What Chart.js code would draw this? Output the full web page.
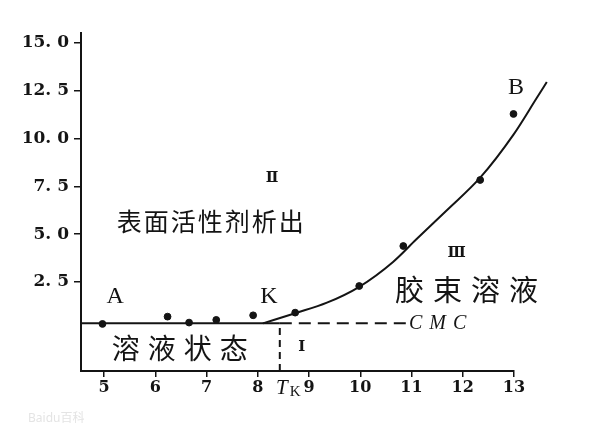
<!DOCTYPE html>
<html>
<head>
<meta charset="utf-8">
<script src="https://cdn.jsdelivr.net/npm/chart.js@4.4.1/dist/chart.umd.min.js"></script>
<style>
  html, body { margin: 0; padding: 0; background: #fff; }
  #chart { display: block; }
</style>
</head>
<body>
<canvas id="chart" width="600" height="435"></canvas>
<script>
// axis ticks
var xTicks = [5, 6, 7, 8, 9, 10, 11, 12, 13];
var yTicks = [2.5, 5, 7.5, 10, 12.5, 15];
var yTickLabels = ['2. 5', '5. 0', '7. 5', '10. 0', '12. 5', '15. 0'];

// measured points
var pointX = [4.97, 6.24, 6.66, 7.19, 7.91, 8.73, 9.98, 10.84, 12.34, 12.99, 13.45];
var pointY = [0.31, 0.69, 0.38, 0.52, 0.76, 0.90, 2.29, 4.38, 7.83, 11.28, 12.36];

// curve K -> B
var curveX = [8.10, 8.73, 9.35, 9.98, 10.64, 11.09, 11.69, 12.34, 12.99, 13.44, 13.64];
var curveY = [0.34, 0.87, 1.42, 2.25, 3.55, 4.72, 6.25, 7.95, 10.2, 12.1, 12.95];

var cmc = 0.34;       // CMC level
var tk = 8.43;        // Krafft point T_K
var cmcEnd = 10.91;   // dashed line stops at the "CMC" text

var xMin = 4.551, xMax = 13;
var yMin = -2.15, yMax = 15.51;

// text placed in data units
var notes = [
    {text: 'A', x: 5.22, y: 1.71, kind: 'letter'},
    {text: 'K', x: 8.22, y: 1.72, kind: 'letter'},
    {text: 'B', x: 13.04, y: 12.64, kind: 'letter'},
    {text: 'Ⅱ', x: 8.28, y: 7.93, kind: 'roman'},
    {text: 'Ⅲ', x: 11.88, y: 4.0, kind: 'roman'},
    {text: 'Ⅰ', x: 8.86, y: -0.88, kind: 'roman'},
    {text: '表面活性剂析出', x: 5.25, y: 5.64, kind: 'cjkSmall'},
    {text: '溶液状态', x: 5.15, y: -0.95, kind: 'cjk'},
    {text: '胶束溶液', x: 10.68, y: 2.08, kind: 'cjkBig'},
    {text: 'CMC', x: 10.95, y: cmc, kind: 'cmc'}
];

var ink = '#141414';

var styles = {
    letter: {font: '24px "Liberation Serif"', align: 'center', spacing: '0px'},
    roman: {font: 'bold 15px "DejaVu Serif", "Noto Sans CJK SC"', align: 'center', spacing: '0px'},
    cjkSmall: {font: '25px "Noto Sans CJK SC"', align: 'left', spacing: '2px'},
    cjk: {font: '28px "Noto Sans CJK SC"', align: 'left', spacing: '8px'},
    cjkBig: {font: '29px "Noto Sans CJK SC"', align: 'left', spacing: '9px'},
    cmc: {font: 'italic 20px "Liberation Serif"', align: 'left', spacing: '7px'}
};

var textPlugin = {
    id: 'notes',
    afterDraw: function(chart) {
        var ctx = chart.ctx;
        var xs = chart.scales.x, ys = chart.scales.y;
        ctx.save();
        ctx.fillStyle = ink;
        ctx.textBaseline = 'middle';
        notes.forEach(function(n) {
            var st = styles[n.kind];
            ctx.font = st.font;
            ctx.textAlign = st.align;
            ctx.letterSpacing = st.spacing;
            ctx.fillText(n.text, xs.getPixelForValue(n.x), ys.getPixelForValue(n.y));
        });
        ctx.letterSpacing = '0px';

        // T_K under the axis
        var px = xs.getPixelForValue(tk);
        var py = chart.chartArea.bottom + 17;
        ctx.font = 'italic 21px "Liberation Serif"';
        ctx.textAlign = 'center';
        ctx.fillText('T', px + 2, py);
        ctx.font = '15px "Liberation Serif"';
        ctx.textAlign = 'left';
        ctx.fillText('K', px + 10, py + 4);

        // faint watermark
        ctx.fillStyle = '#e4e4e4';
        ctx.font = '12px "Noto Sans", "Noto Sans CJK SC"';
        ctx.fillText('Baidu百科', 28, 419);
        ctx.restore();
    }
};

var dots = pointX.map(function(x, i) { return {x: x, y: pointY[i]}; });
var curve = curveX.map(function(x, i) { return {x: x, y: curveY[i]}; });

new Chart(document.getElementById('chart'), {
    type: 'scatter',
    data: {
        datasets: [{
            data: dots,
            backgroundColor: ink,
            borderColor: ink,
            pointRadius: function(c) { return c.dataIndex === pointX.length - 1 ? 2.3 : 3.4; },
            clip: false
        }, {
            data: curve,
            showLine: true,
            borderColor: ink,
            borderWidth: 2,
            pointRadius: 0,
            cubicInterpolationMode: 'monotone',
            clip: false
        }, {
            data: [{x: xMin, y: cmc}, {x: tk, y: cmc}],
            showLine: true,
            borderColor: ink,
            borderWidth: 2,
            pointRadius: 0
        }, {
            data: [{x: tk, y: cmc}, {x: cmcEnd, y: cmc}],
            showLine: true,
            borderColor: ink,
            borderWidth: 2,
            borderDash: [12, 7],
            pointRadius: 0
        }, {
            data: [{x: tk, y: yMin}, {x: tk, y: cmc}],
            showLine: true,
            borderColor: ink,
            borderWidth: 2,
            borderDash: [7, 5],
            pointRadius: 0
        }]
    },
    options: {
        responsive: false,
        animation: false,
        devicePixelRatio: 1,
        layout: {padding: {left: 0, right: 86, top: 33, bottom: 0}},
        plugins: {legend: {display: false}, tooltip: {enabled: false}},
        scales: {
            x: {
                type: 'linear',
                bounds: 'data',
                // bounds set here (not as min/max) so points past 13 are still drawn
                afterDataLimits: function(s) { s.min = xMin; s.max = xMax; },
                afterBuildTicks: function(axis) {
                    axis.ticks = xTicks.map(function(v) { return {value: v}; });
                },
                afterFit: function(s) { s.height = 64; },
                border: {color: ink, width: 2},
                grid: {drawOnChartArea: false, color: ink, lineWidth: 1.5, tickLength: 6},
                ticks: {
                    color: ink,
                    padding: 1,
                    maxRotation: 0,
                    autoSkip: false,
                    font: {family: '"DejaVu Serif"', size: 16, weight: 'bold'},
                    callback: function(v) { return String(v); }
                }
            },
            y: {
                type: 'linear',
                min: yMin,
                max: yMax,
                afterBuildTicks: function(axis) {
                    axis.ticks = yTicks.map(function(v) { return {value: v}; });
                },
                afterFit: function(s) { s.width = 81; },
                border: {color: ink, width: 2},
                grid: {drawOnChartArea: false, color: ink, lineWidth: 1.5, tickLength: 7},
                ticks: {
                    color: ink,
                    padding: 5,
                    font: {family: '"DejaVu Serif"', size: 17, weight: 'bold'},
                    callback: function(v, i) { return yTickLabels[i]; }
                }
            }
        }
    },
    plugins: [textPlugin]
});
</script>
</body>
</html>
